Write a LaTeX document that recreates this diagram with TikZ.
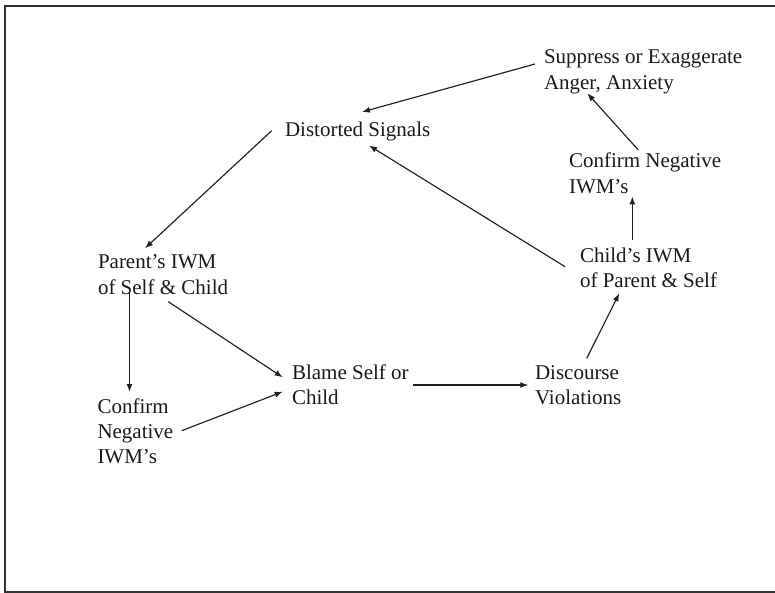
\documentclass[tikz,border=0pt]{standalone}
\usepackage{fontspec}
\setmainfont{Liberation Serif}
\usetikzlibrary{arrows.meta}
\tikzset{
  lbl/.style={inner sep=0pt, outer sep=0pt, anchor=base west, text=black!90,
    font=\fontsize{21}{25.3}\selectfont},
  conn/.style={line width=1.15pt, draw=black!88, -{Latex[length=8pt,width=6pt]}},
  frameline/.style={line width=2pt, draw=black!80}
}
\newcommand{\lns}[1]{\begin{tabular}[t]{@{}l@{}}#1\end{tabular}}
\begin{document}
\begin{tikzpicture}[x=1pt,y=-1pt]
\useasboundingbox (0,0) rectangle (775,593);
% frame
\draw[frameline] (775,6.5) -- (5,6.5) -- (5,593);
\draw[frameline] (5,591.8) -- (775,591.8);
% labels
\node[lbl] (sup)    at (544,64)  {\lns{Suppress or Exaggerate\\Anger, Anxiety}};
\node[lbl] (dist)   at (285,137) {Distorted Signals};
\node[lbl] (confr)  at (569,168) {\lns{Confirm Negative\\IWM’s}};
\node[lbl] (child)  at (580,262) {\lns{Child’s IWM\\of Parent \& Self}};
\node[lbl] (parent) at (98,269)  {\lns{Parent’s IWM\\of Self \& Child}};
\node[lbl] (blame)  at (292,379) {\lns{Blame Self or\\Child}};
\node[lbl] (disc)   at (535,379) {\lns{Discourse\\Violations}};
\node[lbl] (confl)  at (97.5,413) {\lns{Confirm\\Negative\\IWM’s}};
% connectors
\draw[conn] ([shift={(-9,0)}]sup.base west) -- ([shift={(77,-25)}]dist.base west);
\draw[conn] ([shift={(-13.3,-6.3)}]dist.base west) -- ([shift={(47,-20.7)}]parent.base west);
\draw[conn] ([shift={(31.5,21)}]parent.base west) -- ([shift={(32,-21)}]confl.base west);
\draw[conn] ([shift={(70.3,32.7)}]parent.base west) -- ([shift={(-9.3,-1.7)}]blame.base west);
\draw[conn] ([shift={(84.2,17.7)}]confl.base west) -- ([shift={(-9.3,12.7)}]blame.base west);
\draw[conn] ([shift={(121,6)}]blame.base west) -- ([shift={(-6.7,6)}]disc.base west);
\draw[conn] ([shift={(51.7,-20.7)}]disc.base west) -- ([shift={(39.3,31.3)}]child.base west);
\draw[conn] ([shift={(52.3,-22)}]child.base west) -- ([shift={(63.3,28.5)}]confr.base west);
\draw[conn] ([shift={(69.3,-18)}]confr.base west) -- ([shift={(43.3,29.3)}]sup.base west);
\draw[conn] ([shift={(-15,4.7)}]child.base west) -- ([shift={(84,8.5)}]dist.base west);
\end{tikzpicture}
\end{document}
